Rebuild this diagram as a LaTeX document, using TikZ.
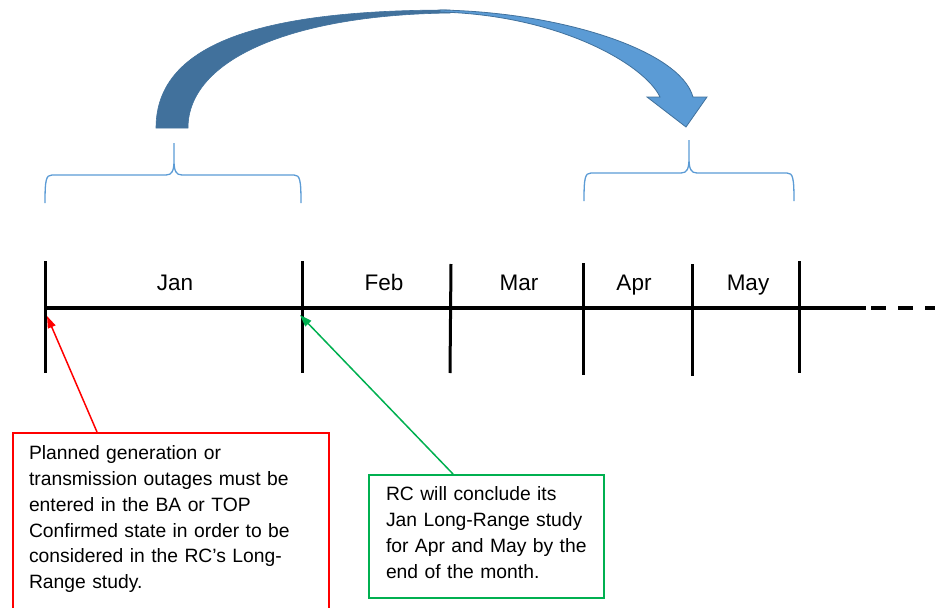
\documentclass[tikz,border=0pt]{standalone}
\usepackage{fontspec}
\setmainfont{Liberation Sans}
\usetikzlibrary{arrows.meta}

\definecolor{boxred}{RGB}{255,0,0}
\definecolor{boxgreen}{RGB}{0,176,80}
\definecolor{bracecol}{HTML}{5B9BD5}
\definecolor{arcdark}{HTML}{41719C}
\definecolor{arclight}{HTML}{5B9BD5}

\tikzset{
    month/.style={anchor=base,font=\fontsize{22.5}{27}\selectfont},
    monthtick/.style={line width=3pt},
    note/.style={
        draw,
        line width=2pt,
        anchor=north west,
        align=left,
        inner xsep=16pt,
        inner ysep=13pt,
        font=\fontsize{19.3}{25.7}\selectfont
    },
    brace/.style={bracecol,line width=1.3pt},
    pointer/.style={line width=1.5pt,-{Triangle[length=12pt,width=8pt]}}
}

\begin{document}
\begin{tikzpicture}[x=1pt,y=-1pt]
        \clip (0,0) rectangle (935,608);
        \filldraw[fill=arcdark,draw=arcdark,line width=0.6pt]
            (156,128) .. controls (156,40) and (270,10) .. (450,10)
            -- (450,13) .. controls (290,15) and (188,60) .. (188,128) -- cycle;
        \filldraw[fill=arclight,draw=arcdark,line width=0.8pt]
            (440,10) .. controls (560,12) and (680,50) .. (693,97)
            -- (707,97) -- (686,127) -- (647,97) -- (660,97)
            .. controls (645,65) and (560,15) .. (440,12) -- cycle;
        \draw[brace] (45,203) .. controls (45,180) and (46,175) .. (52,175) -- (166,175)
            .. controls (172,175) and (174,171) .. (174,160) -- (174,143)
            (174,160) .. controls (174,171) and (176,175) .. (182,175) -- (294,175)
            .. controls (300,175) and (301,180) .. (301,203);
        \draw[brace] (584,201) .. controls (584,178) and (585,173) .. (591,173) -- (681,173)
            .. controls (687,173) and (689,169) .. (689,158) -- (689,140)
            (689,158) .. controls (689,169) and (691,173) .. (697,173) -- (787,173)
            .. controls (793,173) and (794,178) .. (794,201);
        \draw[line width=3.5pt] (45,308) -- (866,308);
        \draw[line width=3.5pt,dash pattern=on 15pt off 12pt] (871,308) -- (945,308);
        \draw[monthtick] (45,261) -- (45,373);
        \draw[monthtick] (302,261) -- (302,373);
        \draw[monthtick] (451,264) -- (450,373);
        \draw[monthtick] (583,263) -- (583,375);
        \draw[monthtick] (692,264) -- (692,376);
        \draw[monthtick] (799,261) -- (799,373);
        \coordinate (jantip) at (47,316);
        \coordinate (febtip) at (300,315);
        \node (jan) at (175,290) [month] {Jan};
        \node (feb) at (384,290) [month] {Feb};
        \node (mar) at (519,290) [month] {Mar};
        \node (apr) at (634,290) [month] {Apr};
        \node (may) at (748,290) [month] {May};
        \node (outages) at (12,432) [note,draw=boxred,text width=284pt] {Planned generation or\\
            transmission outages must be\\
            entered in the BA or TOP\\
            Confirmed state in order to be\\
            considered in the RC’s Long-\\
            Range study.\\
            \rule{0pt}{30pt}};
        \node (conclude) at (368,474) [note,draw=boxgreen,text width=201pt,inner xsep=17pt,inner ysep=12pt] {RC will conclude its\\
            Jan Long-Range study\\
            for Apr and May by the\\
            end of the month.\rule[-8pt]{0pt}{8pt}};
        \draw[pointer,boxred] ([xshift=85pt]outages.north west) -- (jantip);
        \draw[pointer,boxgreen] ([xshift=85pt]conclude.north west) -- (febtip);
    \end{tikzpicture}
\end{document}
